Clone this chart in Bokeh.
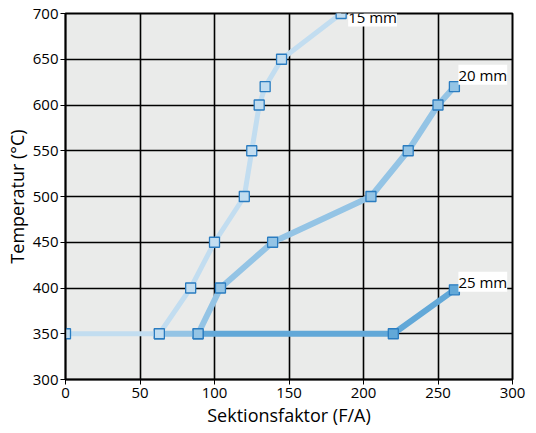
from bokeh.plotting import figure
from bokeh.models import Label, Range1d, FixedTicker
from bokeh.embed import file_html
from bokeh.resources import INLINE

# Data
x_15 = [0, 63, 84, 100, 120, 125, 130, 134, 145, 185]
t_15 = [350, 350, 400, 450, 500, 550, 600, 620, 650, 700]
x_20 = [63, 89, 104, 139, 205, 230, 250, 261]
t_20 = [350, 350, 400, 450, 500, 550, 600, 620]
x_25 = [89, 220, 261]
t_25 = [350, 350, 398]
series_names = ["15 mm", "20 mm", "25 mm"]
x_ticks = [0, 50, 100, 150, 200, 250, 300]
y_ticks = [300, 350, 400, 450, 500, 550, 600, 650, 700]

FONT = "Open Sans"

p = figure(width=528, height=429, output_backend="svg", toolbar_location=None,
           x_range=Range1d(0, 300), y_range=Range1d(300, 700),
           min_border_left=65, min_border_top=13, min_border_right=16, min_border_bottom=45)
p.background_fill_color = "#eaebea"
p.border_fill_color = "white"
p.outline_line_color = "black"
p.outline_line_width = 2

for ax in (p.xaxis, p.yaxis):
    ax.axis_line_color = "black"
    ax.axis_line_width = 1.5
    ax.major_tick_line_color = "black"
    ax.major_tick_line_width = 1
    ax.major_tick_out = 5
    ax.major_tick_in = 0
    ax.minor_tick_line_color = None
    ax.major_label_text_font = FONT
    ax.major_label_text_font_size = "15px"
    ax.major_label_text_color = "black"
    ax.axis_label_text_font = FONT
    ax.axis_label_text_font_size = "18px"
    ax.axis_label_text_font_style = "normal"
    ax.axis_label_text_color = "black"

p.xaxis.ticker = FixedTicker(ticks=x_ticks)
p.yaxis.ticker = FixedTicker(ticks=y_ticks)
p.xaxis.axis_label = "Sektionsfaktor (F/A)"
p.yaxis.axis_label = "Temperatur (°C)"
p.xaxis.major_label_standoff = 3
p.yaxis.major_label_standoff = 2
p.xaxis.axis_label_standoff = 2
p.yaxis.axis_label_standoff = 1

p.xgrid.grid_line_color = "black"
p.ygrid.grid_line_color = "black"
p.xgrid.grid_line_width = 1.6
p.ygrid.grid_line_width = 1.6

colors = ["#c2ddf0", "#94c4e5", "#62a8d8"]
widths = [5, 6, 6]
data = [(x_15, t_15), (x_20, t_20), (x_25, t_25)]
offsets = [(7, -13), (4, 2), (4, -2)]

for i in (2, 1, 0):
    xs, ts = data[i]
    p.line(xs, ts, line_color=colors[i], line_width=widths[i])
    p.scatter(xs, ts, marker="square", size=10, fill_color=colors[i],
              line_color="#2a7cc0", line_width=1.3)

for i in range(3):
    xs, ts = data[i]
    p.add_layout(Label(x=xs[-1], y=ts[-1], text=series_names[i],
                       x_offset=offsets[i][0], y_offset=offsets[i][1],
                       text_font=FONT, text_font_size="15px", text_color="black",
                       background_fill_color="white", background_fill_alpha=1.0))

open("out.html", "w").write(file_html(p, INLINE))
